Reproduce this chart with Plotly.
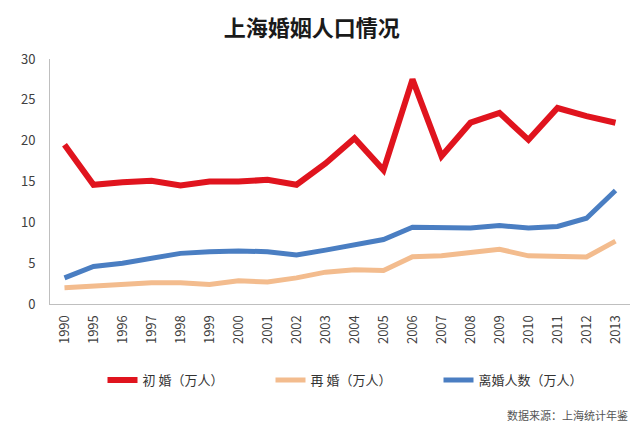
import plotly.graph_objects as go

years = ["1990", "1995", "1996", "1997", "1998", "1999", "2000", "2001", "2002", "2003",
         "2004", "2005", "2006", "2007", "2008", "2009", "2010", "2011", "2012", "2013"]
first_marriage = [19.5, 14.6, 14.9, 15.1, 14.5, 15.0, 15.0, 15.2, 14.6, 17.2,
                  20.3, 16.4, 27.5, 18.1, 22.2, 23.4, 20.1, 24.0, 23.0, 22.2]
remarriage = [2.0, 2.2, 2.3, 2.6, 2.6, 2.4, 2.85, 2.7, 3.2, 3.9,
              4.2, 4.1, 5.8, 5.9, 6.3, 6.7, 5.9, 5.8, 5.75, 7.7]
divorce = [3.2, 4.6, 5.0, 5.6, 6.2, 6.4, 6.5, 6.4, 6.0, 6.6,
           7.2, 7.9, 9.4, 9.3, 9.3, 9.6, 9.3, 9.5, 10.5, 13.9]
names = ["初\u00a0婚（万人）", "再\u00a0婚（万人）", "离婚人数（万人）"]
colors = ["#E0141E", "#F3BC8E", "#4A7EC2"]
widths = [6, 5, 5]

FONT = "Noto Sans CJK SC, Microsoft YaHei, sans-serif"

fig = go.Figure()
for vals, name, c, w in zip([first_marriage, remarriage, divorce], names, colors, widths):
    fig.add_trace(go.Scatter(x=years, y=vals, mode="lines", name=name,
                             line=dict(color=c, width=w)))

fig.update_layout(
    width=641, height=427,
    margin=dict(l=42, r=19, t=51, b=131),
    paper_bgcolor="white", plot_bgcolor="white",
    font=dict(family=FONT, color="#404040", size=12),
    title=dict(text="<b>上海婚姻人口情况</b>", x=0.474, xanchor="center", y=0.952, yanchor="middle",
               font=dict(size=22, color="#1a1a1a", family=FONT)),
    xaxis=dict(type="category", range=[-0.5, 19.5], showgrid=False, showline=True,
               linecolor="#BFBFBF", linewidth=1, ticks="", tickangle=-90, ticklabelstandoff=5,
               tickfont=dict(size=13, color="#404040")),
    yaxis=dict(range=[0, 30], dtick=5, showgrid=False, showline=True, linecolor="#BFBFBF",
               linewidth=1, ticks="", zeroline=False, ticklabelstandoff=11,
               tickfont=dict(size=13, color="#404040")),
    legend=dict(orientation="h", x=0.525, xanchor="center", y=-0.31, yanchor="middle",
                font=dict(size=13, color="#333333"), entrywidth=123, entrywidthmode="pixels"),
    annotations=[dict(text="数据来源：上海统计年鉴", xref="paper", yref="paper",
                      x=1.0, xanchor="right", y=-0.455, yanchor="middle", showarrow=False,
                      font=dict(size=11, color="#555555"))],
)

fig.write_html("out.html")
